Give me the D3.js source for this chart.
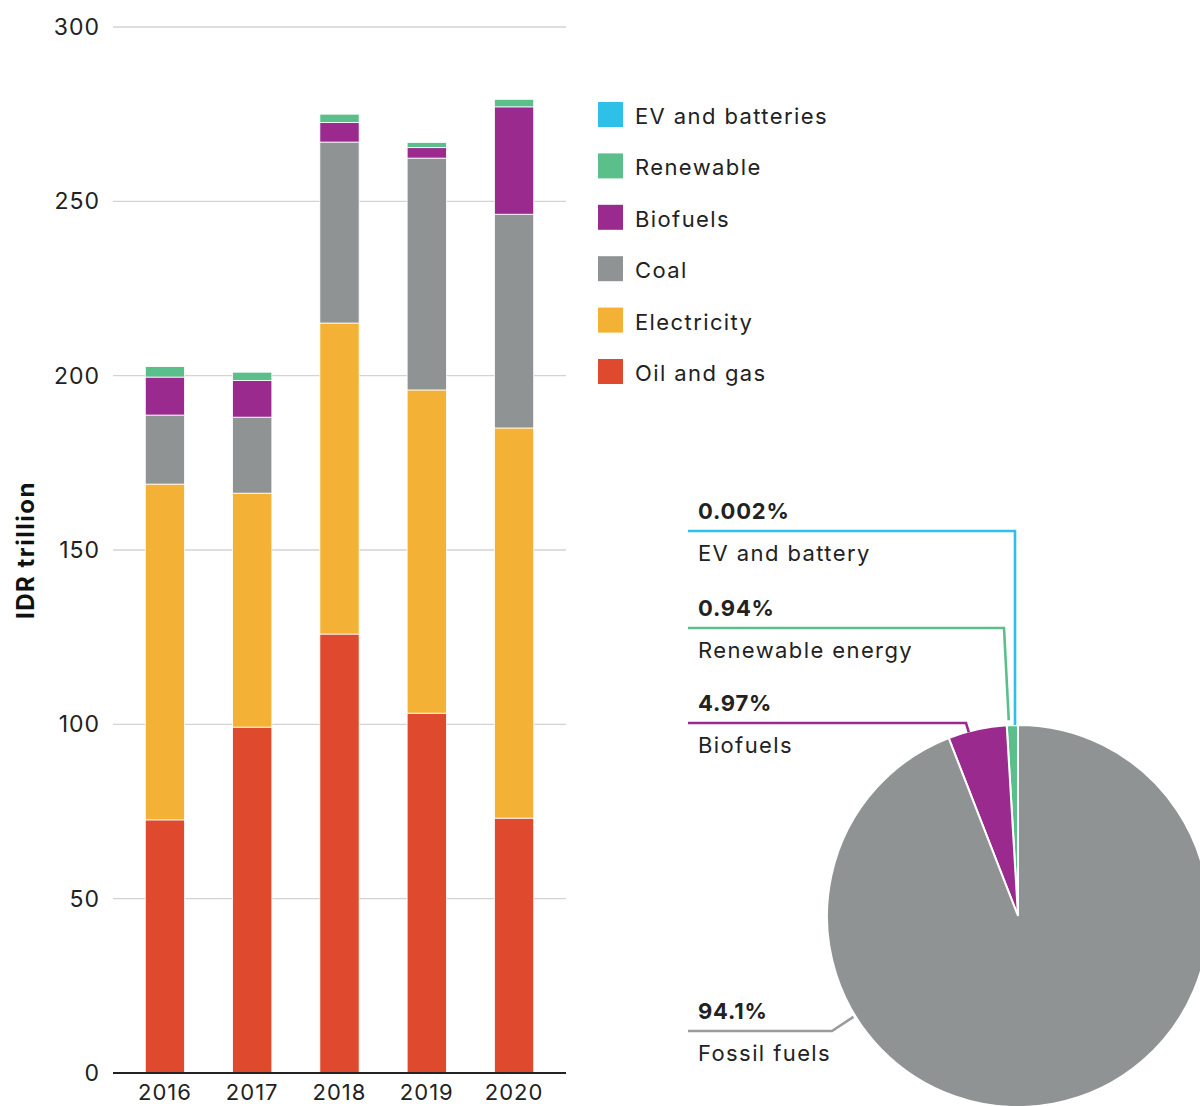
<!DOCTYPE html>
<html>
<head>
<meta charset="utf-8">
<script src="https://cdn.jsdelivr.net/npm/d3@7"></script>
<style>
  html, body { margin: 0; padding: 0; background: #fff; }
  svg { display: block; font-family: Inter, "Noto Sans", sans-serif; }
</style>
</head>
<body>
<div id="chart"></div>
<script>
// Bar chart data (IDR trillion)
const years = ['2016', '2017', '2018', '2019', '2020'];
const oilGas      = [72.6, 99.2, 125.9, 103.2, 73.1];
const electricity = [96.3, 67.1, 89.2, 92.7, 111.9];
const coal        = [19.8, 21.8, 51.9, 66.5, 61.3];
const biofuels    = [10.9, 10.5, 5.6, 3.0, 30.8];
const renewable   = [3.0, 2.4, 2.4, 1.5, 2.2];
const evBatteries = [0, 0, 0, 0, 0.2];
const yTicks = [0, 50, 100, 150, 200, 250, 300];

// Stack order, bottom to top
const seriesKeys   = ['Oil and gas', 'Electricity', 'Coal', 'Biofuels', 'Renewable', 'EV and batteries'];
const seriesValues = [oilGas, electricity, coal, biofuels, renewable, evBatteries];
const seriesColors = ['#df4a2f', '#f3b236', '#909393', '#9a2a8e', '#5bbf8c', '#2fc0ea'];

// Pie data (share of total, %)
const pieNames  = ['EV and battery', 'Renewable energy', 'Biofuels', 'Fossil fuels'];
const pieShares = [0.002, 0.94, 4.97, 94.1];
const pieLabels = ['0.002%', '0.94%', '4.97%', '94.1%'];
const pieColors = ['#2fc0ea', '#5bbf8c', '#9a2a8e', '#909393'];

const width = 1200, height = 1106;
const svg = d3.select('#chart').append('svg')
  .attr('width', width)
  .attr('height', height);

// ---- stacked bars ----
const rows = years.map((yr, i) => {
  const r = { year: yr };
  seriesKeys.forEach((k, j) => { r[k] = seriesValues[j][i]; });
  return r;
});
const stacked = d3.stack().keys(seriesKeys)(rows);

const x = d3.scaleBand().domain(years).range([113, 566])
  .paddingInner(0.55).paddingOuter(0.37);
const y = d3.scaleLinear().domain([0, 300]).range([1073, 27]);
const color = d3.scaleOrdinal().domain(seriesKeys).range(seriesColors);

// gridlines
svg.append('g')
  .selectAll('line')
  .data(yTicks.filter(d => d > 0))
  .join('line')
  .attr('x1', 113).attr('x2', 566)
  .attr('y1', d => y(d)).attr('y2', d => y(d))
  .attr('stroke', '#d3d3d3')
  .attr('stroke-width', 1.3);

svg.append('g')
  .selectAll('g')
  .data(stacked)
  .join('g')
  .attr('fill', d => color(d.key))
  .selectAll('rect')
  .data(d => d)
  .join('rect')
  .attr('x', d => x(d.data.year))
  .attr('width', x.bandwidth())
  .attr('y', d => y(d[1]))
  .attr('height', d => Math.max(0, y(d[0]) - y(d[1])))
  .attr('stroke', '#fff')
  .attr('stroke-width', 0.8);

// y axis labels
const yAxis = d3.axisLeft(y).tickValues(yTicks).tickSize(0).tickPadding(13);
svg.append('g')
  .attr('transform', 'translate(113,0)')
  .call(yAxis)
  .call(g => g.select('.domain').remove())
  .selectAll('text')
  .attr('font-size', 23)
  .attr('font-family', 'Inter, sans-serif')
  .attr('letter-spacing', 1)
  .attr('fill', '#222');

// x axis (labels sit right at the bottom edge, as in the original)
const xAxis = d3.axisBottom(x).tickSize(0).tickPadding(11);
svg.append('g')
  .attr('transform', `translate(0,${y(0)})`)
  .call(xAxis)
  .call(g => g.select('.domain').attr('d', 'M113,0H566').attr('stroke', '#222').attr('stroke-width', 2.2))
  .selectAll('text')
  .attr('font-size', 22)
  .attr('font-family', 'Inter, sans-serif')
  .attr('letter-spacing', 1)
  .attr('fill', '#222');

svg.append('text')
  .attr('transform', `translate(34,${(y(0) + y(300)) / 2}) rotate(-90)`)
  .attr('text-anchor', 'middle')
  .attr('font-size', 24)
  .attr('font-weight', 700)
  .attr('letter-spacing', 1.5)
  .attr('fill', '#111')
  .text('IDR trillion');

// legend (top entry first)
const legendKeys = seriesKeys.slice().reverse();
const legend = svg.append('g').attr('transform', 'translate(598,102)');
const item = legend.selectAll('g')
  .data(legendKeys)
  .join('g')
  .attr('transform', (d, i) => `translate(0,${i * 51.4})`);
item.append('rect')
  .attr('width', 25).attr('height', 25)
  .attr('fill', d => color(d));
item.append('text')
  .attr('x', 37).attr('y', 14)
  .attr('dy', '0.36em')
  .attr('font-size', 22)
  .attr('letter-spacing', 1.4)
  .attr('fill', '#222')
  .text(d => d);

// ---- pie ----
const cx = 1018, cy = 916, r = 191;
const pie = d3.pie().sort(null).startAngle(0).endAngle(-2 * Math.PI);
const arcs = pie(pieShares);
const arc = d3.arc().innerRadius(0).outerRadius(r);

const pieG = svg.append('g').attr('transform', `translate(${cx},${cy})`);
pieG.selectAll('path')
  .data(arcs)
  .join('path')
  .attr('d', arc)
  .attr('fill', (d, i) => pieColors[i])
  .attr('stroke', '#fff')
  .attr('stroke-width', 2);

// point on the circle, angle in degrees counter-clockwise from 12 o'clock
function polar(deg, rad) {
  const a = deg * Math.PI / 180;
  return [cx - Math.sin(a) * rad, cy - Math.cos(a) * rad];
}

// label layout: line y, elbow x, end point on the pie
const labelLayout = [
  { lineY: 531, elbowX: 1015, end: [1015, cy - r] },
  { lineY: 628, elbowX: 1004, end: polar(2.7, r + 5) },
  { lineY: 723, elbowX: 966,  end: polar(15, r - 1) },
  { lineY: 1031, elbowX: 832, end: polar(121.5, r + 2) }
];

const lab = svg.append('g');
labelLayout.forEach((l, i) => {
  lab.append('path')
    .attr('d', `M688,${l.lineY}H${l.elbowX}L${l.end[0]},${l.end[1]}`)
    .attr('fill', 'none')
    .attr('stroke', i === 3 ? '#9a9c9c' : pieColors[i])
    .attr('stroke-width', 2.6);
  lab.append('text')
    .attr('x', 698).attr('y', l.lineY - 12)
    .attr('font-size', 22)
    .attr('font-weight', 700)
    .attr('letter-spacing', 0.8)
    .attr('fill', '#222')
    .text(pieLabels[i]);
  lab.append('text')
    .attr('x', 698).attr('y', l.lineY + 30)
    .attr('font-size', 22)
    .attr('letter-spacing', 1.4)
    .attr('fill', '#222')
    .text(pieNames[i]);
});
</script>
</body>
</html>
